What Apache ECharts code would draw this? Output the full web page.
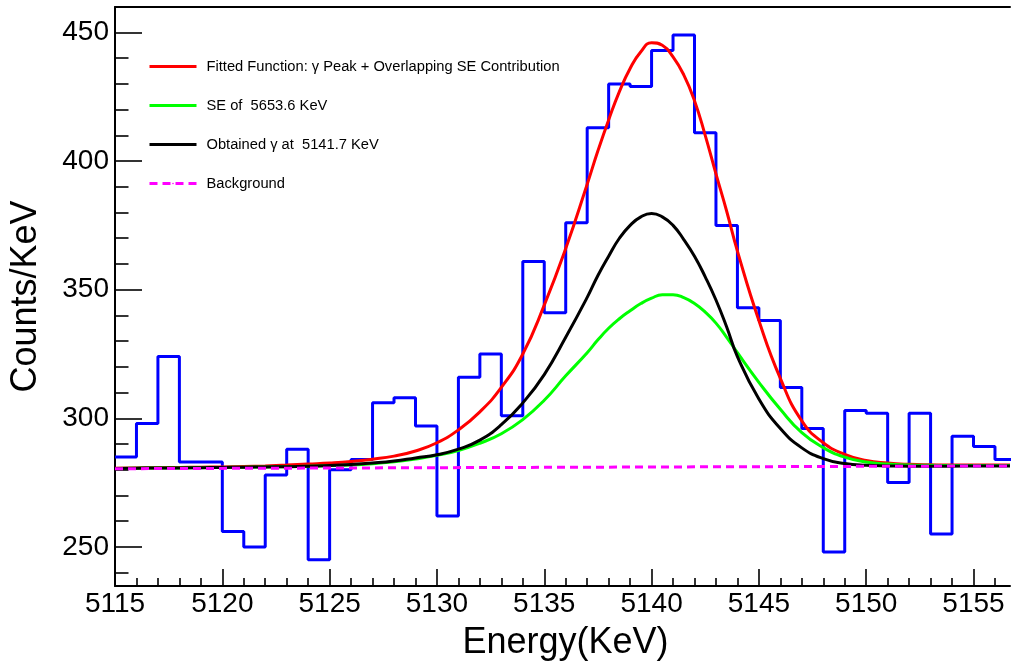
<!DOCTYPE html>
<html>
<head>
<meta charset="utf-8">
<title>Fit of the 5141.7 keV region</title>
<script src="https://cdn.jsdelivr.net/npm/echarts@6/dist/echarts.min.js"></script>
<style>
  html, body { margin: 0; padding: 0; background: #fff; }
  #main { width: 1011px; height: 666px; }
</style>
</head>
<body>
<div id="main"></div>
<script>
// histogram: lower bin edges (1 keV bins) and counts
const binLow = [5115, 5116, 5117, 5118, 5119, 5120, 5121, 5122, 5123, 5124,
  5125, 5126, 5127, 5128, 5129, 5130, 5131, 5132, 5133, 5134,
  5135, 5136, 5137, 5138, 5139, 5140, 5141, 5142, 5143, 5144,
  5145, 5146, 5147, 5148, 5149, 5150, 5151, 5152, 5153, 5154,
  5155, 5156];
const counts = [285, 298, 324, 283, 283, 256, 250, 278, 288, 245,
  280, 284, 306, 308, 297, 262, 316, 325, 301, 361,
  341, 376, 413, 430, 429, 443, 449, 411, 375, 343,
  338, 312, 296, 248, 303, 302, 275, 302, 255, 293,
  289, 284];

const curveE = [5115, 5116, 5117, 5118, 5119, 5120, 5121, 5122, 5123, 5124,
  5125, 5126, 5127, 5128, 5129, 5130, 5131, 5132, 5133, 5134,
  5135, 5136,
  5137, 5137.5, 5138, 5138.5, 5139, 5139.5, 5140, 5140.5, 5141, 5141.5,
  5142, 5142.5, 5143, 5143.5, 5144,
  5145, 5146, 5147, 5148, 5149, 5150, 5151, 5152, 5153, 5154,
  5155, 5156, 5156.7];

// fitted total (gamma peak + SE + background)
const fitTotal = [280.6, 280.7, 280.8, 280.9, 281.0, 281.1, 281.3, 281.5, 281.8, 282.2,
  282.6, 283.2, 284.1, 285.3, 287.3, 290.5, 295.5, 302.5, 312, 325,
  344, 366,
  391, 404, 416, 427, 436, 442.5, 446, 445, 440.5, 433.5,
  423.5, 410, 395, 380.5, 365,
  338, 315.5, 299, 290.5, 286, 283.6, 282.6, 282.1, 281.9, 281.8,
  281.8, 281.8, 281.8];

// single-escape contribution of the 5653.6 keV line
const seVals = [280.5, 280.6, 280.7, 280.7, 280.8, 280.9, 281.0, 281.1, 281.2, 281.4,
  281.6, 281.8, 282.3, 283.1, 284.2, 285.6, 287.5, 290.3, 294, 299.5,
  307, 316.5,
  325.5, 330.5, 335, 338.7, 341.8, 344.6, 346.7, 348, 348, 346.9,
  344.6, 341.3, 337, 331.5, 325.5,
  314, 303.5, 294.4, 288.6, 284.9, 283, 282.2, 281.8, 281.7, 281.6,
  281.6, 281.6, 281.6];

// obtained gamma at 5141.7 keV
const gammaVals = [280.5, 280.6, 280.7, 280.7, 280.8, 280.9, 281.0, 281.1, 281.2, 281.4,
  281.6, 282, 282.6, 283.4, 284.6, 285.8, 288, 291.5, 297.5, 306,
  317, 331.5,
  347, 355.5, 363, 370, 375, 378.3, 379.6, 378.3, 375, 369.5,
  363, 355, 346, 335.5, 324,
  307.5, 296, 288.5, 284.3, 282.4, 281.7, 281.5, 281.4, 281.4, 281.4,
  281.5, 281.5, 281.5];

// linear background
const bgE = [5115, 5156.7];
const bgVals = [280.4, 281.5];

// axis ticks
const xMin = 5115, xMax = 5156.7;
const yMin = 234.8, yMax = 459.9;
const xMajor = [5115, 5120, 5125, 5130, 5135, 5140, 5145, 5150, 5155];
const xMinor = [5116, 5117, 5118, 5119, 5121, 5122, 5123, 5124, 5126, 5127, 5128, 5129,
  5131, 5132, 5133, 5134, 5136, 5137, 5138, 5139, 5141, 5142, 5143, 5144,
  5146, 5147, 5148, 5149, 5151, 5152, 5153, 5154, 5156];
const yMajor = [250, 300, 350, 400, 450];
const yMinor = [240, 260, 270, 280, 290, 310, 320, 330, 340, 360, 370, 380, 390,
  410, 420, 430, 440];

const legendNames = [
  'Fitted Function: γ Peak + Overlapping SE Contribution',
  'SE of  5653.6 KeV',
  'Obtained γ at  5141.7 KeV',
  'Background'
];

const FONT = '"Liberation Sans", Arial, sans-serif';

const histData = binLow.map((e, i) => [e, counts[i]]);
histData.push([binLow[binLow.length - 1] + 1, counts[counts.length - 1]]);
const pairs = (xs, ys) => xs.map((x, i) => [x, ys[i]]);

const tickLine = { color: '#000', width: 1.6 };
const axisBase = { splitLine: { show: false } };

const chart = echarts.init(document.getElementById('main'));
chart.setOption({
  animation: false,
  backgroundColor: '#fff',
  grid: { left: 114, top: 7, right: 1, bottom: 79 },
  legend: {
    orient: 'vertical',
    left: 143,
    top: 54,
    itemWidth: 47,
    itemHeight: 2,
    itemGap: 24,
    data: legendNames,
    lineStyle: { width: 3 },
    textStyle: { fontFamily: FONT, fontSize: 14.7, color: '#000', padding: [0, 0, 0, 5], lineHeight: 15 }
  },
  xAxis: [
    {
      ...axisBase,
      type: 'value', min: xMin, max: xMax, position: 'bottom',
      axisLine: { lineStyle: { color: '#000', width: 2 } },
      axisTick: { inside: true, length: 17, customValues: xMajor, lineStyle: tickLine },
      axisLabel: {
        customValues: xMajor, fontFamily: FONT, fontSize: 28, color: '#000', margin: 4,
        formatter: v => String(v)
      },
      name: 'Energy(KeV)',
      nameLocation: 'middle',
      nameGap: 39,
      nameTextStyle: { fontFamily: FONT, fontSize: 36, color: '#000', padding: [0, 0, 0, 6] }
    },
    {
      ...axisBase,
      type: 'value', min: xMin, max: xMax, position: 'bottom',
      axisLine: { show: false },
      axisTick: { inside: true, length: 8, customValues: xMinor, lineStyle: tickLine },
      axisLabel: { show: false }
    },
    {
      ...axisBase,
      type: 'value', min: xMin, max: xMax, position: 'top',
      axisLine: { lineStyle: { color: '#000', width: 2 } },
      axisTick: { show: false },
      axisLabel: { show: false }
    }
  ],
  yAxis: [
    {
      ...axisBase,
      type: 'value', min: yMin, max: yMax, position: 'left',
      axisLine: { show: true, lineStyle: { color: '#000', width: 2 } },
      axisTick: { show: true, inside: true, length: 27, customValues: yMajor, lineStyle: tickLine },
      axisLabel: { customValues: yMajor, fontFamily: FONT, fontSize: 28, color: '#000', margin: 6 },
      name: 'Counts/KeV',
      nameLocation: 'middle',
      nameGap: 71,
      nameTextStyle: { fontFamily: FONT, fontSize: 36, color: '#000' }
    },
    {
      ...axisBase,
      type: 'value', min: yMin, max: yMax, position: 'left',
      axisLine: { show: false },
      axisTick: { show: true, inside: true, length: 13.5, customValues: yMinor, lineStyle: tickLine },
      axisLabel: { show: false }
    }
  ],
  series: [
    {
      name: 'Data',
      type: 'line',
      step: 'end',
      data: histData,
      symbol: 'none',
      lineStyle: { color: '#0000ff', width: 3 },
      itemStyle: { color: '#0000ff' }
    },
    {
      name: legendNames[0],
      type: 'line',
      data: pairs(curveE, fitTotal),
      smooth: true,
      symbol: 'none',
      lineStyle: { color: '#ff0000', width: 3 },
      itemStyle: { color: '#ff0000' }
    },
    {
      name: legendNames[1],
      type: 'line',
      data: pairs(curveE, seVals),
      smooth: true,
      symbol: 'none',
      lineStyle: { color: '#00ff00', width: 3 },
      itemStyle: { color: '#00ff00' }
    },
    {
      name: legendNames[2],
      type: 'line',
      data: pairs(curveE, gammaVals),
      smooth: true,
      symbol: 'none',
      lineStyle: { color: '#000000', width: 3 },
      itemStyle: { color: '#000000' }
    },
    {
      name: legendNames[3],
      type: 'line',
      data: pairs(bgE, bgVals),
      symbol: 'none',
      lineStyle: { color: '#ff00ff', width: 3, type: [8, 5] },
      itemStyle: { color: '#ff00ff' }
    }
  ]
});
</script>
</body>
</html>
